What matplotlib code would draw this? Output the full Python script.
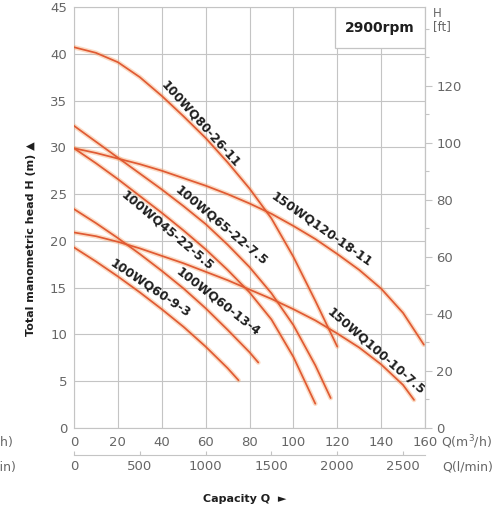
import matplotlib
matplotlib.use("Agg")
import matplotlib.pyplot as plt
from matplotlib.ticker import MultipleLocator
from matplotlib.patches import Rectangle

# ---- data ----
q_80_26 = [0, 10, 20, 30, 40, 50, 60, 70, 80, 90, 100, 110, 120]
h_80_26 = [40.7, 40.1, 39.1, 37.5, 35.5, 33.3, 31.0, 28.4, 25.6, 22.4, 18.3, 13.6, 8.7]

q_120_18 = [0, 10, 20, 30, 40, 50, 60, 70, 80, 90, 100, 110, 120, 130, 140, 150, 159.5]
h_120_18 = [29.9, 29.4, 28.8, 28.2, 27.5, 26.7, 25.9, 25.0, 24.0, 22.9, 21.6, 20.2,
            18.6, 16.9, 14.9, 12.3, 8.9]

q_65_22 = [0, 10, 20, 30, 40, 50, 60, 70, 80, 90, 100, 110, 117]
h_65_22 = [32.3, 30.6, 28.9, 27.2, 25.5, 23.7, 21.8, 19.6, 17.2, 14.4, 11.0, 6.7, 3.2]

q_45_22 = [0, 10, 20, 30, 40, 50, 60, 70, 80, 90, 100, 110]
h_45_22 = [29.9, 28.3, 26.6, 24.8, 23.0, 21.1, 19.1, 16.9, 14.5, 11.6, 7.6, 2.6]

q_60_13 = [0, 10, 20, 30, 40, 50, 60, 70, 80, 84]
h_60_13 = [23.4, 21.9, 20.3, 18.6, 16.8, 14.9, 12.8, 10.5, 8.1, 7.0]

q_100_10 = [0, 10, 20, 30, 40, 50, 60, 70, 80, 90, 100, 110, 120, 130, 140, 150, 155]
h_100_10 = [20.9, 20.5, 19.9, 19.2, 18.4, 17.6, 16.7, 15.8, 14.8, 13.8, 12.7, 11.5,
            10.1, 8.6, 6.8, 4.6, 3.0]

q_60_9 = [0, 10, 20, 30, 40, 50, 60, 70, 75]
h_60_9 = [19.3, 17.8, 16.2, 14.5, 12.7, 10.8, 8.7, 6.4, 5.1]

names = ["100WQ80-26-11", "150WQ120-18-11", "100WQ65-22-7.5", "100WQ45-22-5.5",
         "100WQ60-13-4", "150WQ100-10-7.5", "100WQ60-9-3"]
curves = [(q_80_26, h_80_26), (q_120_18, h_120_18), (q_65_22, h_65_22),
          (q_45_22, h_45_22), (q_60_13, h_60_13), (q_100_10, h_100_10),
          (q_60_9, h_60_9)]
# label centre (Q, H) and rotation
label_q = [57.8, 113, 67, 42.4, 65.6, 137.6, 34.6]
label_h = [32.5, 21.2, 21.6, 21.1, 13.5, 8.25, 14.9]
label_rot = [-48, -35, -40, -40, -38, -41, -34]

x_ticks = [0, 20, 40, 60, 80, 100, 120, 140, 160]
y_ticks = [0, 5, 10, 15, 20, 25, 30, 35, 40, 45]
ft_ticks = [0, 20, 40, 60, 80, 100, 120]
lmin_ticks = [0, 500, 1000, 1500, 2000, 2500]

W, H = 504, 512
fig = plt.figure(figsize=(W / 100, H / 100), dpi=100)
ax = fig.add_axes([74 / W, 1 - 428 / H, 351 / W, 421 / H])

grid_c = "#c4c4c4"
tick_c = "#666666"
line_c = "#e05a33"
glow_c = "#f6a56c"

ax.set_xlim(0, 160)
ax.set_ylim(0, 45)
ax.set_xticks(x_ticks)
ax.set_yticks(y_ticks)
ax.grid(True, color=grid_c, lw=0.8)
for s in ax.spines.values():
    s.set_color(grid_c)
    s.set_linewidth(0.8)
ax.tick_params(axis="both", length=0, labelsize=9.5, labelcolor=tick_c)
ax.tick_params(axis="x", pad=6)
ax.tick_params(axis="y", pad=5)

for (q, h) in curves:
    ax.plot(q, h, color=glow_c, lw=3.4, alpha=0.4, solid_capstyle="round",
            solid_joinstyle="round", zorder=3)
    ax.plot(q, h, color=line_c, lw=1.25, solid_capstyle="round",
            solid_joinstyle="round", zorder=4)

for name, lq, lh, r in zip(names, label_q, label_h, label_rot):
    ax.text(lq, lh, name, rotation=r, ha="center", va="center", fontsize=8.8,
            fontweight="bold", color="#1e1e1e", rotation_mode="anchor", zorder=5)

# right axis in feet
ax2 = ax.twinx()
ax2.set_ylim(0, 45 * 3.2808)
ax2.set_yticks(ft_ticks)
ax2.yaxis.set_minor_locator(MultipleLocator(10))
ax2.tick_params(axis="y", which="major", length=5, width=0.8, color=grid_c,
                labelsize=9.5, labelcolor=tick_c, pad=3)
ax2.tick_params(axis="y", which="minor", length=3, width=0.8, color=grid_c)
for s in ax2.spines.values():
    s.set_visible(False)
ax2.spines["right"].set_visible(True)
ax2.spines["right"].set_color(grid_c)
ax2.spines["right"].set_linewidth(0.8)

# secondary x axis in l/min
sec = ax.secondary_xaxis(-0.064, functions=(lambda x: x * 1000 / 60, lambda x: x * 60 / 1000))
sec.set_xticks(lmin_ticks)
sec.spines["bottom"].set_color(grid_c)
sec.spines["bottom"].set_linewidth(0.8)
sec.tick_params(axis="x", direction="in", length=3, width=0.8, color=grid_c,
                labelsize=9.5, labelcolor=tick_c, pad=4)

# rpm box
ax.add_patch(Rectangle((118.8, 40.6), 41.2, 4.4, facecolor="white", edgecolor=grid_c,
                       lw=0.9, zorder=6))
ax.text(139.4, 42.8, "2900rpm", ha="center", va="center", fontsize=10,
        fontweight="bold", color="#1e1e1e", zorder=7)

# unit texts
fig.text(433 / W, 1 - 20 / H, "H\n[ft]", ha="left", va="center", fontsize=8.5,
         color=tick_c, linespacing=1.0)
fig.text(441 / W, 1 - 442 / H, "Q(m$^3$/h)", ha="left", va="center", fontsize=9,
         color=tick_c)
fig.text(442 / W, 1 - 467 / H, "Q(l/min)", ha="left", va="center", fontsize=9,
         color=tick_c)
fig.text(13 / W, 1 - 442 / H, "Q(m$^3$/h)", ha="right", va="center", fontsize=9,
         color=tick_c)
fig.text(16 / W, 1 - 467 / H, "Q(l/min)", ha="right", va="center", fontsize=9,
         color=tick_c)

fig.text(31 / W, 1 - 239 / H, "Total manometric head H (m) \u25B2", rotation=90,
         ha="center", va="center", fontsize=8, fontweight="bold", color="#1e1e1e")
fig.text(245 / W, 1 - 499 / H, "Capacity Q  \u25BA", ha="center", va="center",
         fontsize=8, fontweight="bold", color="#1e1e1e")

fig.savefig("out.png", dpi=100)
